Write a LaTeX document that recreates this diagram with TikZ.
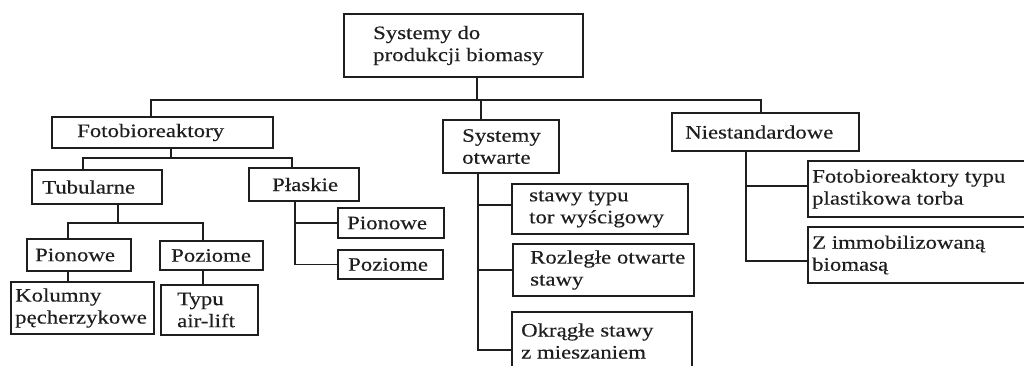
\documentclass[tikz,border=0pt]{standalone}
\usepackage{fontspec}
\setmainfont{Liberation Serif}[FakeStretch=1.2,FakeBold=0.3]
\definecolor{ink}{RGB}{30,30,30}
\tikzset{
  box/.style={draw=ink, line width=1.3pt, anchor=north west, inner sep=0pt, outer sep=0pt},
  txt/.style={anchor=west, align=left, inner sep=0pt, text=ink, font=\fontsize{19}{22}\selectfont},
  conn/.style={draw=ink, line width=1.3pt}
}
\newcommand\mybox[7]{%
  \pgfmathsetmacro\bw{#4-#2}\pgfmathsetmacro\bh{#5-#3}%
  \node[box, minimum width=\bw pt, minimum height=\bh pt] (#1) at (#2,#3) {};
  \node[txt] (#1t) at ([xshift=#6pt]#1.west) {#7};}
\begin{document}
\begin{tikzpicture}[x=1pt,y=-1pt]
\useasboundingbox (0,0) rectangle (1024,365);
\fill[white] (0,0) rectangle (1024,365);
\clip (0,0) rectangle (1024,365);
\mybox{root}{344}{14}{583}{77}{29}{Systemy do\\produkcji biomasy}
\mybox{fot}{52}{117}{273}{148}{25}{Fotobioreaktory}
\mybox{sys}{443}{120}{559}{173}{19}{Systemy\\otwarte}
\mybox{nie}{672}{113}{859}{151}{13}{Niestandardowe}
\mybox{tub}{32}{170}{162}{204}{10}{Tubularne}
\mybox{pla}{249}{168}{359}{201}{23}{Płaskie}
\mybox{pioA}{27}{239}{131}{271}{8}{Pionowe}
\mybox{pozA}{160}{241}{263}{270}{11}{Poziome}
\mybox{kol}{11}{282}{154}{334}{4}{Kolumny\\pęcherzykowe}
\mybox{typ}{161}{285}{258}{335}{16}{Typu\\air-lift}
\mybox{pioB}{338}{208}{444}{238}{9}{Pionowe}
\mybox{pozB}{338}{250}{443}{279}{10}{Poziome}
\mybox{sta}{512}{184}{688}{234}{17}{stawy typu\\tor wyścigowy}
\mybox{roz}{513}{244}{694}{296}{17}{Rozległe otwarte\\stawy}
\mybox{okr}{512}{312}{692}{370}{9}{Okrągłe stawy\\z mieszaniem}
\mybox{fbt}{808}{161}{1040}{217}{4}{Fotobioreaktory typu\\plastikowa torba}
\mybox{imm}{808}{227}{1040}{283}{4}{Z immobilizowaną\\biomasą}
% level 1
\coordinate (B1) at (477,100);
\draw[conn] ([xshift=99pt]fot.north west) |- (B1) -| ([xshift=89pt]nie.north west);
\draw[conn] (B1) -- (B1 |- root.south);
\draw[conn] ([xshift=38pt]sys.north west) |- (B1);
% fotobioreaktory
\coordinate (B2) at (171,158);
\draw[conn] ([xshift=51pt]tub.north west) |- (B2) -| ([xshift=43pt]pla.north west);
\draw[conn] (B2) -- (B2 |- fot.south);
% tubularne
\coordinate (B3) at (118,223);
\draw[conn] ([xshift=41pt]pioA.north west) |- (B3) -| ([xshift=43pt]pozA.north west);
\draw[conn] (B3) -- (B3 |- tub.south);
\coordinate (C1) at ([xshift=41pt]pioA.south west);
\draw[conn] (C1) -- (C1 |- kol.north);
\coordinate (C2) at ([xshift=43pt]pozA.south west);
\draw[conn] (C2) -- ([yshift=-1pt]C2 |- typ.north);
% plaskie
\coordinate (P) at ([xshift=46pt]pla.south west);
\draw[conn] (P) |- (pozB.west);
\draw[conn] (P |- pioB.west) -- (pioB.west);
% systemy otwarte
\coordinate (S) at ([xshift=35pt]sys.south west);
\coordinate (okrA) at ([yshift=-9pt]okr.west);
\coordinate (staA) at ([yshift=4pt]sta.west);
\draw[conn] (S) |- (okrA);
\draw[conn] (S |- staA) -- (staA);
\draw[conn] (S |- roz.west) -- (roz.west);
% niestandardowe
\coordinate (N) at ([xshift=74pt]nie.south west);
\coordinate (immA) at ([yshift=-6pt]imm.west);
\coordinate (fbtA) at ([yshift=3pt]fbt.west);
\draw[conn] (N) |- (immA);
\draw[conn] (N |- fbtA) -- (fbtA);
\end{tikzpicture}
\end{document}
